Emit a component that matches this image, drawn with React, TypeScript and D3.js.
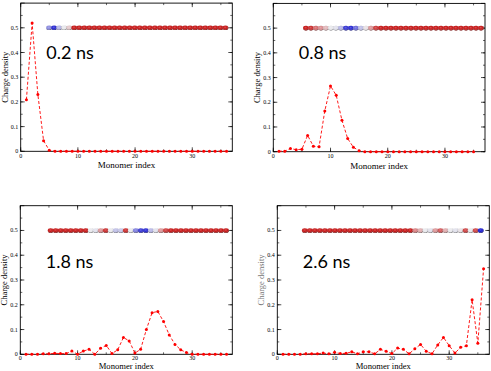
import React from "react";
import * as d3 from "d3";

// charge density per monomer at each snapshot
const density02 = [
  0.209, 0.519, 0.23, 0.043, 0.004, 0, 0, 0, 0, 0, 0, 0, 0, 0, 0, 0, 0, 0,
  0, 0, 0, 0, 0, 0, 0, 0, 0, 0, 0, 0, 0, 0, 0, 0, 0, 0,
];
const density08 = [
  0.002, 0.002, 0.013, 0.008, 0.01, 0.066, 0.022, 0.02, 0.165, 0.266, 0.228,
  0.127, 0.053, 0.018, 0.004, 0, 0, 0, 0, 0, 0, 0, 0, 0, 0, 0, 0, 0, 0, 0, 0,
  0, 0, 0, 0,
];
const density18 = [
  0, 0, 0, 0.002, 0.002, 0.004, 0.003, 0.003, 0.013, 0, 0.013, 0.02, 0, 0.024,
  0.036, 0.003, 0.018, 0.068, 0.054, 0.005, 0.02, 0.1, 0.168, 0.173, 0.132,
  0.078, 0.04, 0.018, 0.007, 0, 0, 0, 0, 0, 0, 0,
];
const density26 = [
  0, 0, 0, 0, 0.002, 0.002, 0.002, 0.005, 0.002, 0.008, 0.003, 0.004, 0.01,
  0.002, 0.01, 0.01, 0.002, 0.02, 0.012, 0.003, 0.025, 0.02, 0.002, 0.022,
  0.04, 0.012, 0.002, 0.038, 0.068, 0.035, 0.005, 0.028, 0.035, 0.22, 0.045,
  0.345,
];

// bead colour along the chain: 0 = red, 0.5 = white, 1 = blue
const beads02 = [
  0.72, 0.95, 0.62, 0.5, 0.42, 0, 0, 0, 0, 0, 0, 0, 0, 0, 0, 0, 0, 0, 0, 0, 0,
  0, 0, 0, 0, 0, 0, 0, 0, 0, 0, 0, 0, 0, 0, 0,
];
const beads08 = [
  0, 0.05, 0.2, 0.28, 0.38, 0.5, 0.52, 0.62, 0.92, 0.95, 0.8, 0.6, 0.48, 0.3,
  0.08, 0, 0, 0, 0, 0, 0, 0, 0, 0, 0, 0, 0, 0, 0, 0, 0, 0, 0, 0, 0, 0,
];
const beads18 = [
  0, 0, 0, 0, 0, 0, 0, 0, 0.5, 0.52, 0.3, 0.05, 0.5, 0.6, 0.58, 0.05, 0.5, 0.75,
  0.92, 0.95, 0.62, 0.52, 0.3, 0.08, 0, 0, 0, 0, 0, 0, 0, 0, 0, 0, 0, 0,
];
const beads26 = [
  0, 0, 0, 0, 0, 0, 0, 0, 0, 0, 0, 0, 0, 0, 0, 0, 0, 0, 0, 0, 0, 0, 0.25, 0.35,
  0.5, 0.52, 0.3, 0.15, 0.35, 0.5, 0.52, 0.48, 0.1, 0.5, 0.1, 0.98,
];

const panels = [
  { label: "0.2 ns", data: density02, beads: beads02, box: [20.7, 3.1, 232.3, 151.3], chain: [4.96, 35.8] },
  { label: "0.8 ns", data: density08, beads: beads08, box: [273.3, 3.4, 485, 151.7], chain: [5.7, 36.3] },
  { label: "1.8 ns", data: density18, beads: beads18, box: [20.3, 205.7, 232.3, 354.3], chain: [5.3, 35.9] },
  { label: "2.6 ns", data: density26, beads: beads26, box: [277.3, 205.7, 489.3, 354.3], chain: [4.8, 35.5] },
];

const beadColor = d3
  .scaleLinear<string>()
  .domain([0, 0.5, 1])
  .range(["#c81818", "#e8e8ec", "#1414d0"]);

const serif = "'Liberation Serif', 'DejaVu Serif', serif";

const Panel = ({ p, idx }) => {
  const [x0, y0, x1, y1] = p.box;
  const bottom = idx >= 2;
  const x = d3.scaleLinear().domain([0, 37]).range([x0, x1]);
  const y = d3.scaleLinear().domain([0, 0.6]).range([y1, y0]);
  const line = d3
    .line<number>()
    .x((_, i) => x(i + 1))
    .y((d) => y(d));
  const chainX = d3
    .scaleLinear()
    .domain([0, p.beads.length - 1])
    .range([x(p.chain[0]), x(p.chain[1])]);
  const xMinor = d3.range(0, 37, 5);
  const yMinor = d3.range(0, 0.6, 0.05);
  const T = 4;
  const t = 2;
  return (
    <g>
      <rect x={x0} y={y0} width={x1 - x0} height={y1 - y0} fill="none" stroke="#000" strokeWidth={0.9} />
      {x.ticks(4).map((v) => (
        <g key={"xt" + v}>
          <line x1={x(v)} x2={x(v)} y1={y1} y2={y1 - T} stroke="#000" strokeWidth={0.7} />
          <line x1={x(v)} x2={x(v)} y1={y0} y2={y0 + T} stroke="#000" strokeWidth={0.7} />
          <text x={x(v)} y={y1 + (bottom ? 5.8 : 6.5)} fontSize={6} fontFamily={serif} textAnchor="middle">{v}</text>
        </g>
      ))}
      {xMinor.map((v) => (
        <g key={"xm" + v}>
          <line x1={x(v)} x2={x(v)} y1={y1} y2={y1 - t} stroke="#000" strokeWidth={0.6} />
          <line x1={x(v)} x2={x(v)} y1={y0} y2={y0 + t} stroke="#000" strokeWidth={0.6} />
        </g>
      ))}
      {y.ticks(6).map((v) => (
        <g key={"yt" + v}>
          <line x1={x0} x2={x0 + T} y1={y(v)} y2={y(v)} stroke="#000" strokeWidth={0.7} />
          <line x1={x1} x2={x1 - T} y1={y(v)} y2={y(v)} stroke="#000" strokeWidth={0.7} />
          {v < 0.55 && (
            <text x={x0 - 2.5} y={y(v) + 2} fontSize={6} fontFamily={serif} textAnchor="end">{v}</text>
          )}
        </g>
      ))}
      {yMinor.map((v, i) => (
        <g key={"ym" + i}>
          <line x1={x0} x2={x0 + t} y1={y(v)} y2={y(v)} stroke="#000" strokeWidth={0.6} />
          <line x1={x1} x2={x1 - t} y1={y(v)} y2={y(v)} stroke="#000" strokeWidth={0.6} />
        </g>
      ))}
      <text
        transform={`translate(${x0 - 13},${(y0 + y1) / 2}) rotate(-90)`}
        fontSize={8.5}
        fontFamily={serif}
        textAnchor="middle"
        fill={idx === 3 ? "#777" : "#000"}
      >
        Charge density
      </text>
      <text
        x={(x0 + x1) / 2}
        y={y1 + (bottom ? 14.8 : 17)}
        fontSize={bottom ? 8.6 : 9}
        fontFamily={serif}
        textAnchor="middle"
      >
        Monomer index
      </text>
      <path d={line(p.data) ?? ""} fill="none" stroke="#ff0000" strokeWidth={0.9} strokeDasharray="3,2" />
      {p.data.map((d, i) => (
        <circle key={"m" + i} cx={x(i + 1)} cy={y(d)} r={1.5} fill="#ff0000" />
      ))}
      {p.beads.map((b, i) => (
        <g key={"b" + i}>
          <ellipse cx={chainX(i)} cy={y(0.5)} rx={2.9} ry={2.3} fill={beadColor(b)} />
          <ellipse cx={chainX(i)} cy={y(0.5)} rx={2.9} ry={2.3} fill="url(#shade)" />
        </g>
      ))}
      <text
        x={x0 + 25.5}
        y={y1 - (bottom ? 86.6 : 92.5)}
        fontSize={18}
        fontFamily="Lato, 'Open Sans', sans-serif"
        fill="#000"
      >
        {p.label}
      </text>
    </g>
  );
};

export default function App() {
  return (
    <svg width={491} height={371} style={{ position: "absolute", left: 0, top: 0, background: "#fff" }}>
      <defs>
        <radialGradient id="shade" cx="0.45" cy="0.4" r="0.6">
          <stop offset="0%" stopColor="#fff" stopOpacity={0.25} />
          <stop offset="55%" stopColor="#fff" stopOpacity={0} />
          <stop offset="100%" stopColor="#000" stopOpacity={0.55} />
        </radialGradient>
      </defs>
      {panels.map((p, i) => (
        <Panel key={i} p={p} idx={i} />
      ))}
    </svg>
  );
}
